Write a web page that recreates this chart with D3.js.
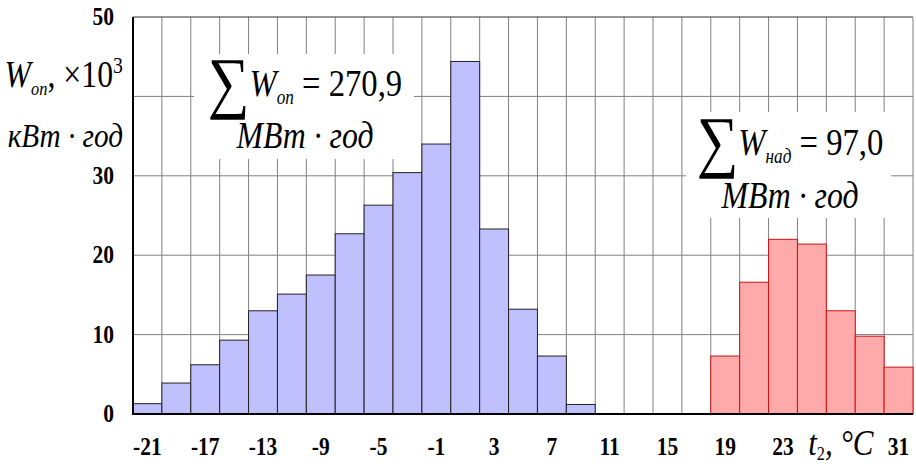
<!DOCTYPE html>
<html>
<head>
<meta charset="utf-8">
<script src="https://cdn.jsdelivr.net/npm/d3@7"></script>
<style>
  body { margin: 0; background: #fff; }
</style>
</head>
<body>
<script>
// outdoor temperature bins, every 2 degrees
const temps = [-21, -19, -17, -15, -13, -11, -9, -7, -5, -3, -1, 1, 3, 5, 7, 9,
               11, 13, 15, 17, 19, 21, 23, 25, 27, 29, 31];
// heating energy, x10^3 kWh
const heatT = [-21, -19, -17, -15, -13, -11, -9, -7, -5, -3, -1, 1, 3, 5, 7, 9];
const heatW = [1.3, 3.9, 6.2, 9.3, 13.0, 15.1, 17.5, 22.7, 26.3, 30.4, 34.0, 44.4, 23.3, 13.2, 7.3, 1.2];
// cooling energy, x10^3 kWh
const coolT = [19, 21, 23, 25, 27, 29, 31];
const coolW = [7.3, 16.6, 22.0, 21.4, 13.0, 9.8, 5.9];

const xTicks = [-21, -17, -13, -9, -5, -1, 3, 7, 11, 15, 19, 23, 31];
const yTicks = [0, 10, 20, 30, 50];
const yGrid = [10, 20, 30, 40];

const W = 916, H = 464;
const pLeft = 133, pRight = 913, pTop = 17, pBottom = 414;
const sx = 0.86; // glyphs look horizontally squeezed
const serif = "Liberation Serif";

const svg = d3.select("body").append("svg")
    .attr("width", W).attr("height", H);

const x = d3.scaleBand().domain(temps).range([pLeft, pRight]).padding(0);
const y = d3.scaleLinear().domain([0, 50]).range([pBottom, pTop]);
const bw = x.bandwidth();

// grid
svg.append("g").selectAll("line").data(temps.slice(1))
    .enter().append("line")
    .attr("x1", d => x(d)).attr("x2", d => x(d))
    .attr("y1", pTop).attr("y2", pBottom)
    .attr("stroke", "#808080").attr("stroke-width", 1);

svg.append("g").selectAll("line").data(yGrid)
    .enter().append("line")
    .attr("x1", pLeft).attr("x2", pRight)
    .attr("y1", d => y(d)).attr("y2", d => y(d))
    .attr("stroke", "#808080").attr("stroke-width", 1);

// frame
svg.append("line").attr("x1", pLeft).attr("x2", pRight).attr("y1", pTop).attr("y2", pTop)
    .attr("stroke", "#333").attr("stroke-width", 1.2);
svg.append("line").attr("x1", pRight).attr("x2", pRight).attr("y1", pTop).attr("y2", pBottom)
    .attr("stroke", "#808080").attr("stroke-width", 1);

// bars
svg.append("g").selectAll("rect").data(heatT.map((t, i) => ({ t, v: heatW[i] })))
    .enter().append("rect")
    .attr("x", d => x(d.t)).attr("width", bw)
    .attr("y", d => y(d.v)).attr("height", d => pBottom - y(d.v))
    .attr("fill", "#c0c0ff").attr("stroke", "#222").attr("stroke-width", 1);

svg.append("g").selectAll("rect").data(coolT.map((t, i) => ({ t, v: coolW[i] })))
    .enter().append("rect")
    .attr("x", d => x(d.t)).attr("width", bw)
    .attr("y", d => y(d.v)).attr("height", d => pBottom - y(d.v))
    .attr("fill", "#ffaaaa").attr("stroke", "#d01010").attr("stroke-width", 1);

// axes
svg.append("line").attr("x1", pLeft).attr("x2", pLeft).attr("y1", pTop).attr("y2", pBottom + 1)
    .attr("stroke", "#000").attr("stroke-width", 2);
svg.append("line").attr("x1", pLeft).attr("x2", pRight).attr("y1", pBottom).attr("y2", pBottom)
    .attr("stroke", "#000").attr("stroke-width", 2);

// tick labels
svg.append("g").selectAll("text").data(xTicks)
    .enter().append("text")
    .attr("transform", d => `translate(${x(d) + bw / 2},455) scale(${sx},1)`)
    .attr("text-anchor", "middle").attr("font-family", serif)
    .attr("font-size", 25).attr("font-weight", "bold")
    .text(d => d);

svg.append("g").selectAll("text").data(yTicks)
    .enter().append("text")
    .attr("transform", d => `translate(114,${y(d) + 8}) scale(${sx},1)`)
    .attr("text-anchor", "end").attr("font-family", serif)
    .attr("font-size", 25).attr("font-weight", "bold")
    .text(d => d);

// annotation boxes
function note(x0, y0, w, h, sub, value, line1y, line2y, cx) {
    svg.append("rect").attr("x", x0).attr("y", y0).attr("width", w).attr("height", h)
        .attr("fill", "#fff");
    const t = svg.append("text")
        .attr("transform", `translate(${cx},${line1y}) scale(${sx},1)`)
        .attr("text-anchor", "middle").attr("font-family", serif).attr("font-size", 38);
    t.append("tspan").attr("font-size", 68).attr("dy", 9).text("∑");
    t.append("tspan").attr("font-style", "italic").attr("dy", -9).text("W");
    t.append("tspan").attr("font-style", "italic").attr("font-size", 20).attr("dy", 8).text(sub);
    t.append("tspan").attr("dy", -8).text(value);
    svg.append("text")
        .attr("transform", `translate(${cx},${line2y}) scale(${sx},1)`)
        .attr("text-anchor", "middle").attr("font-family", serif)
        .attr("font-size", 37).attr("font-style", "italic")
        .text("МВт · год");
}
note(194, 54, 220, 105, "оп", " =  270,9", 96, 148, 305);
note(686, 112, 205, 106, "над", " = 97,0", 155, 208, 790);

// y axis title
const yt = svg.append("text")
    .attr("transform", `translate(123,87) scale(${sx},1)`)
    .attr("text-anchor", "end").attr("font-family", serif).attr("font-size", 37);
yt.append("tspan").attr("font-style", "italic").text("W");
yt.append("tspan").attr("font-style", "italic").attr("font-size", 19).attr("dy", 8).text("оп");
yt.append("tspan").attr("dy", -8).text(", ×10");
yt.append("tspan").attr("font-size", 23).attr("dy", -14).text("3");

svg.append("text")
    .attr("transform", `translate(123,147) scale(${sx},1)`)
    .attr("text-anchor", "end").attr("font-family", serif)
    .attr("font-size", 34).attr("font-style", "italic")
    .text("кВт · год");

// x axis title
const xt = svg.append("text")
    .attr("transform", `translate(${x(27) + bw / 2},455) scale(${sx},1)`)
    .attr("text-anchor", "middle").attr("font-family", serif).attr("font-size", 36);
xt.append("tspan").attr("font-style", "italic").text("t");
xt.append("tspan").attr("font-size", 19).attr("dy", 5).text("2");
xt.append("tspan").attr("dy", -5).attr("font-style", "italic").text(", °C");
</script>
</body>
</html>
